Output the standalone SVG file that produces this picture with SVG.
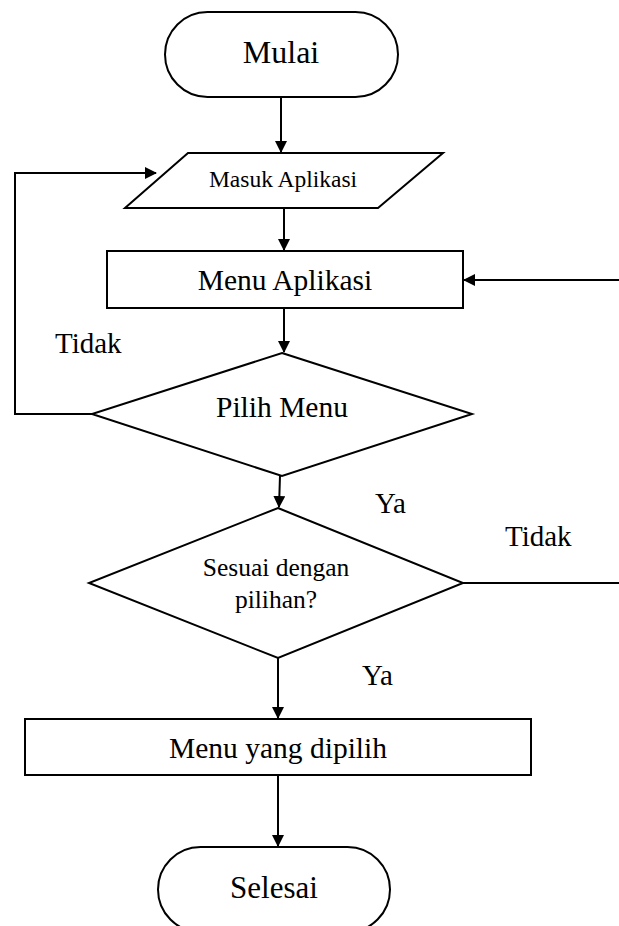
<svg xmlns="http://www.w3.org/2000/svg" width="619" height="926" viewBox="0 0 619 926">
  <style>
    .shape { fill: #ffffff; stroke: #000000; stroke-width: 2; }
    .conn { fill: none; stroke: #000000; stroke-width: 2; }
    .lbl { font-family: "Liberation Serif", "Times New Roman", serif; fill: #000000; text-anchor: middle; }
    .edge { font-family: "Liberation Serif", "Times New Roman", serif; fill: #000000; font-size: 29px; }
  </style>
  <defs>
    <marker id="arrow" markerWidth="12" markerHeight="12" refX="11" refY="6" orient="auto" markerUnits="userSpaceOnUse">
      <path d="M0,0 L12,6 L0,12 Z" fill="#000000"/>
    </marker>
  </defs>

  <rect width="619" height="926" fill="#ffffff"/>

  <!-- connectors -->
  <g id="connectors">
    <line class="conn" x1="281" y1="97" x2="281" y2="152" marker-end="url(#arrow)"/>
    <line class="conn" x1="284" y1="208" x2="284" y2="250" marker-end="url(#arrow)"/>
    <line class="conn" x1="284" y1="308" x2="284" y2="352" marker-end="url(#arrow)"/>
    <line class="conn" x1="619" y1="280" x2="464" y2="280" marker-end="url(#arrow)"/>
    <polyline class="conn" points="92,414 15,414 15,173 156,173" marker-end="url(#arrow)"/>
    <line class="conn" x1="280" y1="476" x2="279" y2="507" marker-end="url(#arrow)"/>
    <line class="conn" x1="463" y1="583" x2="619" y2="583"/>
    <line class="conn" x1="278" y1="658" x2="278" y2="718" marker-end="url(#arrow)"/>
    <line class="conn" x1="278" y1="775" x2="278" y2="846" marker-end="url(#arrow)"/>
    <text class="edge" x="55" y="353">Tidak</text>
    <text class="edge" x="375" y="513">Ya</text>
    <text class="edge" x="505" y="546">Tidak</text>
    <text class="edge" x="362" y="685">Ya</text>
  </g>

  <!-- start -->
  <g id="mulai">
    <rect class="shape" x="165" y="12" width="233" height="85" rx="42.5" ry="42.5"/>
    <text class="lbl" x="281" y="63" font-size="32">Mulai</text>
  </g>

  <!-- input -->
  <g id="masuk-aplikasi">
    <polygon class="shape" points="188,153 443,153 378,208 125,208"/>
    <text class="lbl" x="283" y="187" font-size="23.5">Masuk Aplikasi</text>
  </g>

  <g id="menu-aplikasi">
    <rect class="shape" x="107" y="251" width="356" height="57"/>
    <text class="lbl" x="285" y="290" font-size="29.5">Menu Aplikasi</text>
  </g>

  <g id="pilih-menu">
    <polygon class="shape" points="282,353 472,414 282,476 92,414"/>
    <text class="lbl" x="282" y="417" font-size="29.5">Pilih Menu</text>
  </g>

  <g id="sesuai">
    <polygon class="shape" points="278,508 463,583 278,658 89,583"/>
    <text class="lbl" x="276" y="576" font-size="25.5">Sesuai dengan</text>
    <text class="lbl" x="276" y="608" font-size="25.5">pilihan?</text>
  </g>

  <g id="menu-dipilih">
    <rect class="shape" x="25" y="719" width="506" height="56"/>
    <text class="lbl" x="278" y="758" font-size="29.5">Menu yang dipilih</text>
  </g>

  <!-- end -->
  <g id="selesai">
    <rect class="shape" x="158" y="847" width="232" height="85" rx="42.5" ry="42.5"/>
    <text class="lbl" x="274" y="898" font-size="31">Selesai</text>
  </g>
</svg>
